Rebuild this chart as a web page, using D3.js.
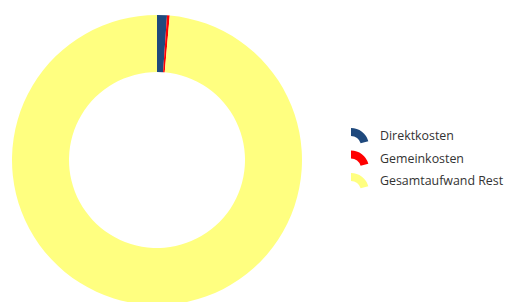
<!DOCTYPE html>
<html>
<head>
<meta charset="utf-8">
<script src="https://cdn.jsdelivr.net/npm/d3@7"></script>
<style>
  body { margin: 0; background: #fff; }
  svg { display: block; }
  .legend-text { font-family: "Open Sans", sans-serif; font-size: 12.4px; fill: #333; }
</style>
</head>
<body>
<div id="chart"></div>
<script>
// daten
const categories = ["Direktkosten", "Gemeinkosten", "Gesamtaufwand Rest"];
const values = [1.1, 0.3, 98.6];
const colors = ["#1f497d", "#ff0000", "#ffff80"];

const width = 510;
const height = 302;

const svg = d3.select("#chart")
  .append("svg")
  .attr("width", width)
  .attr("height", height);

const data = categories.map((c, i) => ({ name: c, value: values[i], color: colors[i] }));

const pie = d3.pie()
  .sort(null)
  .value(d => d.value);

const arc = d3.arc()
  .innerRadius(88)
  .outerRadius(145);

// donut
const g = svg.append("g")
  .attr("transform", "translate(157,160)");

g.selectAll("path")
  .data(pie(data))
  .enter()
  .append("path")
  .attr("d", arc)
  .attr("fill", d => d.data.color);

// legende
const iconArc = d3.arc()
  .innerRadius(10)
  .outerRadius(18)
  .startAngle(0)
  .endAngle(1.3);

const legend = svg.append("g")
  .attr("transform", "translate(351,128)");

const rows = legend.selectAll(".row")
  .data(data)
  .enter()
  .append("g")
  .attr("class", "row")
  .attr("transform", (d, i) => `translate(0,${i * 22.5})`);

rows.append("path")
  .attr("d", iconArc)
  .attr("transform", "translate(0,18)")
  .attr("fill", d => d.color);

rows.append("text")
  .attr("class", "legend-text")
  .attr("x", 29)
  .attr("y", 12)
  .text(d => d.name);
</script>
</body>
</html>
